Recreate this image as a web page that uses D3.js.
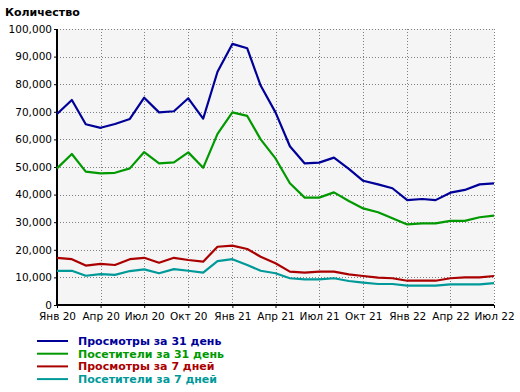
<!DOCTYPE html>
<html>
<head>
<meta charset="utf-8">
<script src="https://cdn.jsdelivr.net/npm/d3@7"></script>
<style>
  body { margin: 0; background: #fff; }
  svg { display: block; }
  .tick text { font-family: "DejaVu Sans", sans-serif; }
</style>
</head>
<body>
<div id="chart"></div>
<script>
var width = 520;
var height = 392;

// monthly points, Jan 2020 .. Jul 2022
var startMonth = new Date(2020, 0, 1);
var views31 = [69200, 74300, 65500, 64200, 65600, 67400, 75100, 69800, 70200, 74900, 67500, 84500,
  94600, 93000, 79500, 69800, 57500, 51300, 51600, 53400, 49300, 45000, 43700, 42300,
  38000, 38400, 38000, 40700, 41700, 43700, 44100];
var visitors31 = [49500, 54700, 48300, 47700, 47900, 49500, 55400, 51300, 51700, 55300, 49700, 62000,
  69800, 68500, 60000, 53100, 44100, 38900, 38900, 40800, 37700, 35000, 33600, 31400,
  29200, 29600, 29600, 30500, 30500, 31800, 32400];
var views7 = [17100, 16600, 14300, 14900, 14500, 16600, 17100, 15300, 17100, 16300, 15700, 21100,
  21500, 20300, 17500, 15100, 12100, 11700, 12100, 12100, 11100, 10500, 9900, 9700,
  8800, 8800, 8800, 9700, 10000, 10000, 10500];
var visitors7 = [12400, 12400, 10600, 11200, 10900, 12300, 12900, 11500, 13000, 12400, 11700, 15900,
  16600, 14500, 12400, 11500, 9700, 9300, 9300, 9700, 8700, 8100, 7600, 7600,
  7000, 7000, 7000, 7500, 7500, 7500, 7900];

var seriesNames = ["Просмотры за 31 день", "Посетители за 31 день", "Просмотры за 7 дней", "Посетители за 7 дней"];
var seriesColors = ["#000099", "#009900", "#aa0000", "#009999"];
var xTickLabels = ["Янв 20", "Апр 20", "Июл 20", "Окт 20", "Янв 21", "Апр 21", "Июл 21", "Окт 21", "Янв 22", "Апр 22", "Июл 22"];
var yTicks = [0, 10000, 20000, 30000, 40000, 50000, 60000, 70000, 80000, 90000, 100000];

var allSeries = [views31, visitors31, views7, visitors7];

var plotLeft = 57, plotRight = 494, plotTop = 29, plotBottom = 305;

var xScale = d3.scaleTime()
  .domain([startMonth, d3.timeMonth.offset(startMonth, 30)])
  .range([plotLeft, plotRight]);
var yScale = d3.scaleLinear().domain([0, 100000]).range([plotBottom, plotTop]);

var xTicks = d3.range(0, 31, 3).map(function (m) { return d3.timeMonth.offset(startMonth, m); });

var svg = d3.select("#chart").append("svg")
  .attr("width", width)
  .attr("height", height);

svg.append("text")
  .attr("x", 5)
  .attr("y", 16)
  .attr("font-family", "DejaVu Sans, sans-serif")
  .attr("font-weight", "bold")
  .attr("font-size", "11px")
  .text("Количество");

// plot background
svg.append("rect")
  .attr("x", plotLeft).attr("y", plotTop)
  .attr("width", plotRight - plotLeft).attr("height", plotBottom - plotTop)
  .attr("fill", "#f5f5f5");

// grid
svg.append("g").selectAll("line")
  .data(yTicks.slice(1))
  .enter().append("line")
  .attr("x1", plotLeft).attr("x2", plotRight)
  .attr("y1", function (d) { return Math.round(yScale(d)) + 0.5; })
  .attr("y2", function (d) { return Math.round(yScale(d)) + 0.5; })
  .attr("stroke", "#808080")
  .attr("stroke-dasharray", "1,2");

svg.append("g").selectAll("line")
  .data(xTicks.slice(1))
  .enter().append("line")
  .attr("x1", function (d) { return Math.round(xScale(d)) + 0.5; })
  .attr("x2", function (d) { return Math.round(xScale(d)) + 0.5; })
  .attr("y1", plotTop).attr("y2", plotBottom)
  .attr("stroke", "#808080")
  .attr("stroke-dasharray", "1,2");

// axes
var yAxis = d3.axisLeft(yScale)
  .tickValues(yTicks)
  .tickSize(3)
  .tickPadding(2)
  .tickFormat(d3.format(","));

var xAxis = d3.axisBottom(xScale)
  .tickValues(xTicks)
  .tickSize(3)
  .tickPadding(5)
  .tickFormat(function (d, i) { return xTickLabels[i]; });

var gy = svg.append("g")
  .attr("transform", "translate(" + plotLeft + ",0)")
  .call(yAxis);
var gx = svg.append("g")
  .attr("transform", "translate(0," + plotBottom + ")")
  .call(xAxis);

[gx, gy].forEach(function (g) {
  g.select(".domain").attr("stroke", "#000").attr("stroke-width", 2);
  g.selectAll(".tick line").attr("stroke", "#000");
  g.selectAll(".tick text").attr("fill", "#000").attr("font-size", "10.5px");
});
gy.select(".domain").attr("d", "M0," + (plotBottom + 1) + "V" + plotTop);
gx.select(".domain").attr("d", "M" + plotLeft + ",0H" + plotRight);

// lines
var line = d3.line()
  .x(function (d, i) { return xScale(d3.timeMonth.offset(startMonth, i)); })
  .y(function (d) { return yScale(d); });

svg.append("g").selectAll("path")
  .data(allSeries.slice().reverse())
  .enter().append("path")
  .attr("d", line)
  .attr("fill", "none")
  .attr("stroke", function (d, i) { return seriesColors[3 - i]; })
  .attr("stroke-width", 2.2)
  .attr("stroke-linejoin", "round");

// legend
var legend = svg.append("g").selectAll("g")
  .data(seriesNames)
  .enter().append("g")
  .attr("transform", function (d, i) { return "translate(0," + (341 + i * 12.7) + ")"; });

legend.append("line")
  .attr("x1", 37).attr("x2", 68)
  .attr("stroke", function (d, i) { return seriesColors[i]; })
  .attr("stroke-width", 2);

legend.append("text")
  .attr("x", 78)
  .attr("y", 4)
  .attr("font-family", "DejaVu Sans, sans-serif")
  .attr("font-weight", "bold")
  .attr("font-size", "11px")
  .attr("fill", function (d, i) { return seriesColors[i]; })
  .text(function (d) { return d; });
</script>
</body>
</html>
